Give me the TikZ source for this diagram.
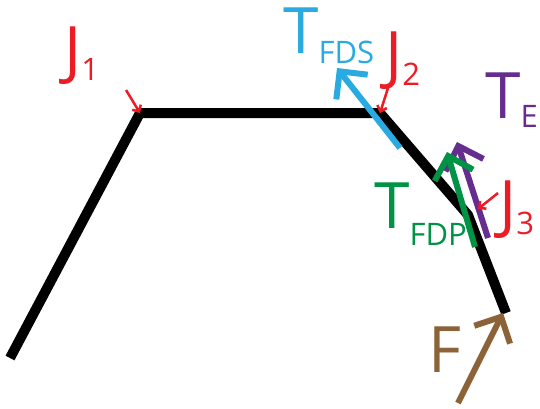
\documentclass[tikz,border=0pt]{standalone}
\usepackage{fontspec}
\setmainfont{Open Sans}
\usetikzlibrary{arrows.meta}

\definecolor{jred}{HTML}{ED1C24}
\definecolor{fdsblue}{HTML}{29ABE2}
\definecolor{epurple}{HTML}{662D91}
\definecolor{fdpgreen}{HTML}{009245}
\definecolor{fbrown}{HTML}{8C6239}

% big letter with a lowered subscript
\newcommand{\biglbl}[3]{{\fontsize{64}{64}\selectfont #1}\raisebox{-#3pt}{\fontsize{31}{31}\selectfont #2}}

\begin{document}
\begin{tikzpicture}[x=1pt, y=-1pt,
						bone/.style={line width=10pt, line join=miter, draw=black},
						force/.style={line width=6pt, -{Straight Barb[length=20pt,width=40pt]}},
						pointer/.style={line width=2.5pt, draw=jred, -{Straight Barb[length=5pt,width=10pt]}},
						lbl/.style={anchor=base west, inner sep=0pt}]
						
						\useasboundingbox (0,0) rectangle (540,408);
						
						% finger segments and joints
						\coordinate (base) at (10,358);
						\coordinate (j1) at (140,113);
						\coordinate (j2) at (380,113);
						\coordinate (j3) at (468,215);
						\coordinate (tip) at (506,313);
						\draw[bone] (base) -- (j1) -- (j2) -- (j3) -- (tip);
						
						% force arrow ends
						\coordinate (fds0) at (400,148);
						\coordinate (fds1) at (337,68);
						\coordinate (e0) at (488,238);
						\coordinate (e1) at (457,142);
						\coordinate (fdp0) at (475,247);
						\coordinate (fdp1) at (447,152);
						\coordinate (f0) at (458,403);
						\coordinate (f1) at (503,313);
						
						\draw[force, draw=fdsblue] (fds0) -- (fds1);
						\draw[force, draw=epurple] (e0) -- (e1);
						\draw[force, draw=fdpgreen] (fdp0) -- (fdp1);
						\draw[force, draw=fbrown] (f0) -- (f1);
						
						% labels
						\node[lbl, text=jred] (j1lbl) at (64,72) {\biglbl{J}{1}{8}};
						\node[lbl, text=jred] (j2lbl) at (385,77) {\biglbl{J}{2}{8}};
						\node[lbl, text=jred] (j3lbl) at (499,226) {\biglbl{J}{3}{8}};
						\node[lbl, text=fdsblue] (fdslbl) at (283,53) {\biglbl{T}{FDS}{10}};
						\node[lbl, text=epurple] (elbl) at (485,118) {\biglbl{T}{E}{9}};
						\node[lbl, text=fdpgreen] (fdplbl) at (374,228) {\biglbl{T}{FDP}{17}};
						\node[lbl, text=fbrown] (flbl) at (428,372) {\biglbl{F}{}{0}};
						
						% joint pointers
						\coordinate (p1) at (126,90);
						\coordinate (p2) at (388,88);
						\coordinate (p3) at (498,193);
						\coordinate (p3end) at (478,209);
						\draw[pointer] (p1) -- (j1);
						\draw[pointer] (p2) -- (j2);
						\draw[pointer] (p3) -- (p3end);
					\end{tikzpicture}
\end{document}
